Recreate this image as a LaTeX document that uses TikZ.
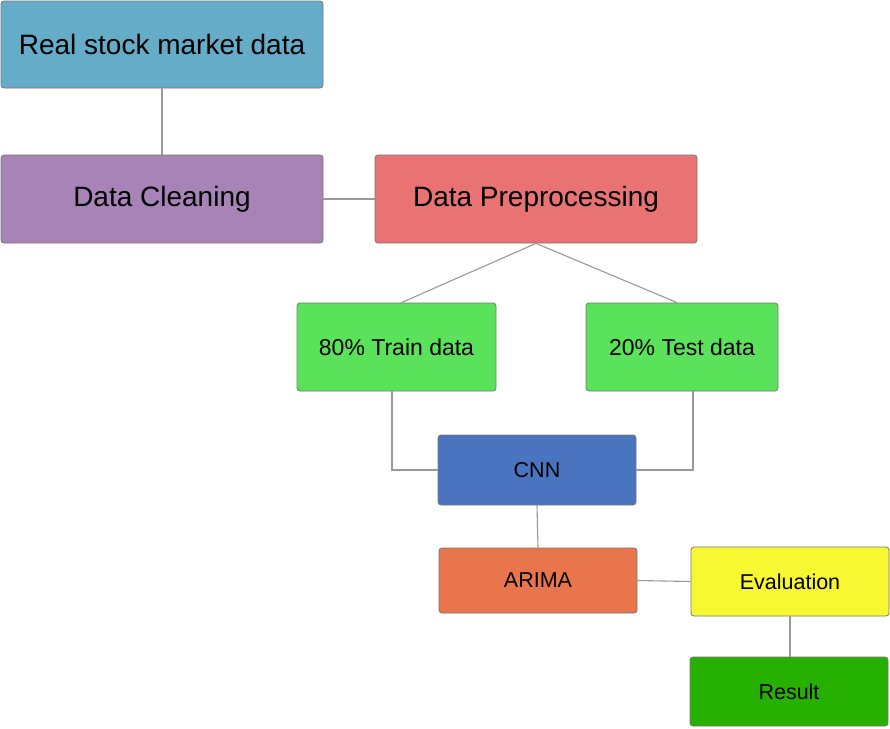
\documentclass[tikz,border=0pt]{standalone}
\usepackage{fontspec}
\setmainfont{Liberation Sans}
\usetikzlibrary{positioning}

\definecolor{realblue}{HTML}{64ACC8}
\definecolor{cleanpurple}{HTML}{A783B8}
\definecolor{prepred}{HTML}{E97373}
\definecolor{splitgreen}{HTML}{5AE25A}
\definecolor{cnnblue}{HTML}{4A74C0}
\definecolor{arimaorange}{HTML}{E8754B}
\definecolor{evalyellow}{HTML}{F7F732}
\definecolor{resultgreen}{HTML}{26B000}
\definecolor{boxborder}{HTML}{777777}
\definecolor{linkgray}{HTML}{999999}

\begin{document}
\begin{tikzpicture}[x=1pt, y=-1pt,
  box/.style={draw = boxborder, rounded corners=3pt, text = black, line width=0.8pt},
  link/.style={draw = linkgray, line width=1.1pt}]

\useasboundingbox (0,0) rectangle (890,728);

\node[box, fill = realblue, minimum width=322pt, minimum height=87pt, font=\fontsize{28}{32}\selectfont] (realdata) at (162,44.5) {Real stock market data};

\node[box, fill = cleanpurple, minimum width=322pt, minimum height=88pt, font=\fontsize{28}{32}\selectfont] (cleaning) at (162,199) {Data Cleaning};

\node[box, fill = prepred, minimum width=322pt, minimum height=88pt, font=\fontsize{28}{32}\selectfont] (preproc) at (536,199) {Data Preprocessing};

\node[box, fill = splitgreen, minimum width=199pt, minimum height=88pt, font=\fontsize{23}{26}\selectfont] (traindata) at (396.5,347) {80\% Train data};

\node[box, fill = splitgreen, minimum width=192pt, minimum height=88pt, font=\fontsize{23}{26}\selectfont] (testdata) at (682,347) {20\% Test data};

\node[box, fill = cnnblue, minimum width=198pt, minimum height=70pt, font=\fontsize{21.5}{24}\selectfont] (cnn) at (537,470) {CNN};

\node[box, fill = arimaorange, minimum width=198pt, minimum height=65pt, font=\fontsize{21.5}{24}\selectfont] (arima) at (538,580.5) {ARIMA};

\node[box, fill = evalyellow, minimum width=198pt, minimum height=69pt, font=\fontsize{21.5}{24}\selectfont] (evaluation) at (790,581.5) {Evaluation};

\node[box, fill = resultgreen, minimum width=198pt, minimum height=69pt, font=\fontsize{21.5}{24}\selectfont] (result) at (789,691.5) {Result};


\draw [link] (realdata.south) -- (cleaning.north);
\draw [link] (cleaning.east) -- (preproc.west);
\draw [link] (preproc.south) -- ([xshift=5pt]traindata.north);
\draw [link] (preproc.south) -- ([xshift=-5pt]testdata.north);
\draw [link] ([xshift=-4.5pt]traindata.south) |- (cnn.west);
\draw [link] ([xshift=11pt]testdata.south) |- (cnn.east);
\draw [link] (cnn.south) -- (arima.north);
\draw [link] (arima.east) -- (evaluation.west);
\draw [link] (evaluation.south) -- ([xshift=1pt]result.north);

\end{tikzpicture}
\end{document}
